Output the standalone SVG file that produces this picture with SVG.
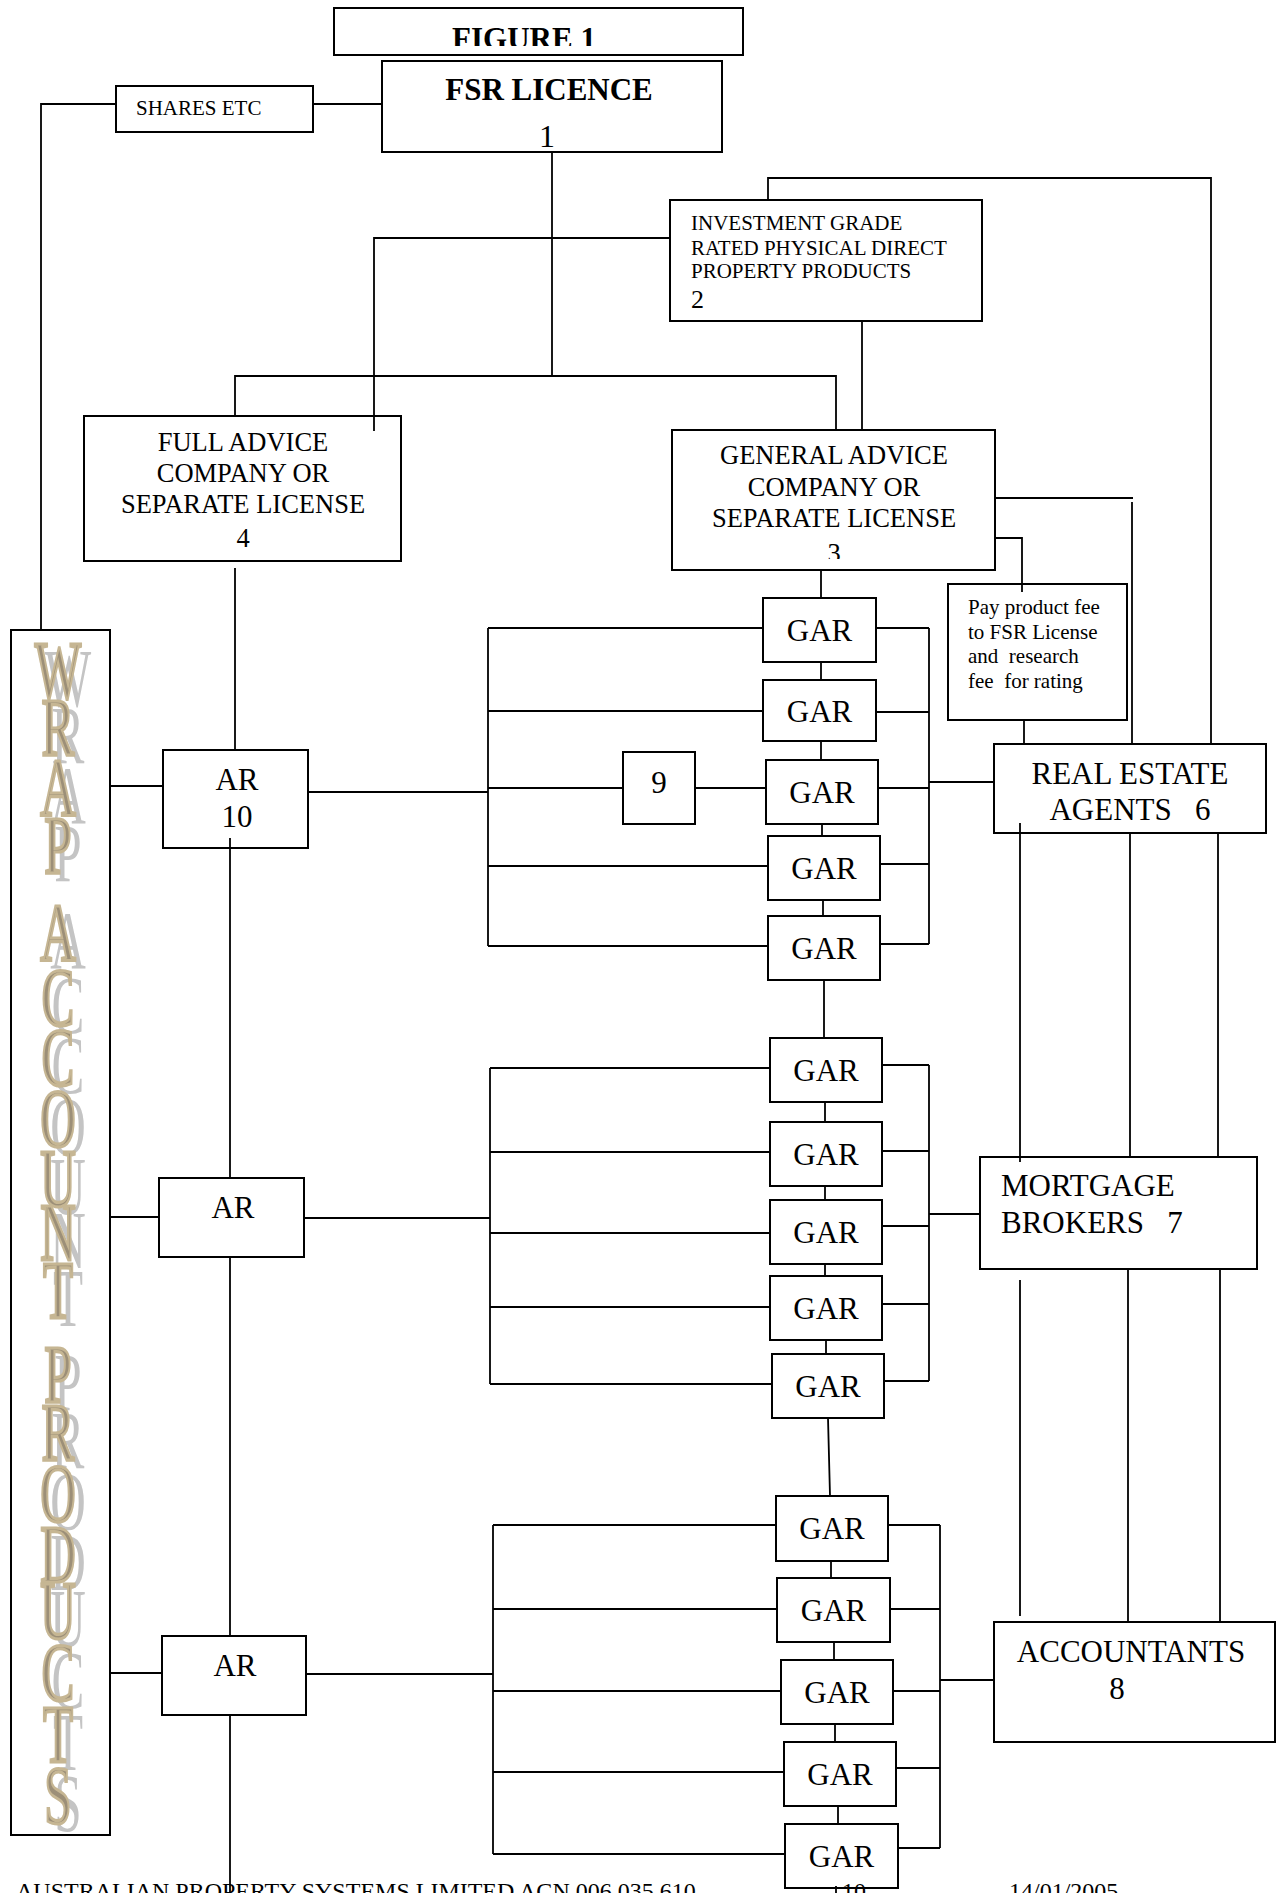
<svg xmlns="http://www.w3.org/2000/svg" xmlns:xlink="http://www.w3.org/1999/xlink" width="1282" height="1893" viewBox="0 0 1282 1893">
<style>
.box{fill:#fff;stroke:#000;stroke-width:2}
.ln{fill:none;stroke:#000;stroke-width:1.8}
.t{font-family:"Liberation Serif","Times New Roman",serif;fill:#000}
.m{text-anchor:middle}
.b{font-weight:bold}
.s20{font-size:21px}
.s26{font-size:26.5px}
.s31{font-size:31px}
.pre{white-space:pre}
.wl{font-family:"Liberation Serif","Times New Roman",serif;font-size:82px;text-anchor:middle}
</style>
<defs>
<clipPath id="clipFig"><rect x="334" y="0" width="409" height="46"/></clipPath>
<clipPath id="clipGen"><rect x="672" y="430" width="323" height="129"/></clipPath>
<g id="wrapLetters">
<text class="wl" x="0" y="698">W</text>
<text class="wl" x="0" y="755">R</text>
<text class="wl" x="0" y="815">A</text>
<text class="wl" x="0" y="873">P</text>
<text class="wl" x="0" y="960">A</text>
<text class="wl" x="0" y="1025">C</text>
<text class="wl" x="0" y="1085">C</text>
<text class="wl" x="0" y="1146">O</text>
<text class="wl" x="0" y="1206">U</text>
<text class="wl" x="0" y="1260">N</text>
<text class="wl" x="0" y="1318">T</text>
<text class="wl" x="0" y="1402">P</text>
<text class="wl" x="0" y="1460">R</text>
<text class="wl" x="0" y="1521">O</text>
<text class="wl" x="0" y="1582">D</text>
<text class="wl" x="0" y="1638">U</text>
<text class="wl" x="0" y="1700">C</text>
<text class="wl" x="0" y="1762">T</text>
<text class="wl" x="0" y="1823">S</text>
</g>
</defs>
<rect x="0" y="0" width="1282" height="1893" fill="#fff"/>

<g id="figure1">
<rect class="box" x="334" y="8" width="409" height="47"/>
<text class="t b m" style="font-size:31px" x="524" y="48.5" clip-path="url(#clipFig)">FIGURE 1</text>
</g>

<g id="fsr-licence">
<rect class="box" x="382" y="61" width="340" height="91"/>
<text class="t b m" style="font-size:31px" x="549" y="100">FSR LICENCE</text>
<text class="t m" style="font-size:32px" x="547" y="147">1</text>
</g>

<g id="shares-etc">
<rect class="box" x="116" y="86" width="197" height="46"/>
<text class="t" style="font-size:21px" x="136" y="115">SHARES ETC</text>
</g>

<g id="investment-grade">
<rect class="box" x="670" y="200" width="312" height="121"/>
<text class="t s20" x="691" y="230">INVESTMENT GRADE</text>
<text class="t s20" x="691" y="255">RATED PHYSICAL DIRECT</text>
<text class="t s20" x="691" y="278">PROPERTY PRODUCTS</text>
<text class="t" style="font-size:26px" x="691" y="308">2</text>
</g>

<g id="full-advice">
<rect class="box" x="84" y="416" width="317" height="145"/>
<text class="t s26 m" x="243" y="451">FULL ADVICE</text>
<text class="t s26 m" x="243" y="482">COMPANY OR</text>
<text class="t s26 m" x="243" y="513">SEPARATE LICENSE</text>
<text class="t s26 m" x="243" y="547">4</text>
</g>

<g id="general-advice">
<rect class="box" x="672" y="430" width="323" height="140"/>
<text class="t s26 m" x="834" y="464">GENERAL ADVICE</text>
<text class="t s26 m" x="834" y="496">COMPANY OR</text>
<text class="t s26 m" x="834" y="527">SEPARATE LICENSE</text>
<text class="t s26 m" x="834" y="562" clip-path="url(#clipGen)">3</text>
</g>

<g id="pay-product-fee">
<rect class="box" x="948" y="584" width="179" height="136"/>
<text class="t s20 pre" x="968" y="614">Pay product fee</text>
<text class="t s20 pre" x="968" y="639">to FSR License</text>
<text class="t s20 pre" x="968" y="663">and  research</text>
<text class="t s20 pre" x="968" y="688">fee  for rating</text>
</g>

<g id="real-estate-agents">
<rect class="box" x="994" y="744" width="272" height="89"/>
<text class="t s31 m pre" x="1130" y="784">REAL ESTATE</text>
<text class="t s31 m pre" x="1130" y="820">AGENTS   6</text>
</g>

<g id="mortgage-brokers">
<rect class="box" x="980" y="1157" width="277" height="112"/>
<text class="t s31 pre" x="1001" y="1196">MORTGAGE</text>
<text class="t s31 pre" x="1001" y="1233">BROKERS   7</text>
</g>

<g id="accountants">
<rect class="box" x="994" y="1622" width="281" height="120"/>
<text class="t s31 m" x="1131" y="1662">ACCOUNTANTS</text>
<text class="t s31 m" x="1117" y="1699">8</text>
</g>

<g id="wrap-account-products">
<rect class="box" x="11" y="630" width="99" height="1205"/>
<use xlink:href="#wrapLetters" transform="translate(68,8) scale(0.6,1)" fill="#c4c4c4"/>
<use xlink:href="#wrapLetters" transform="translate(58,0) scale(0.6,1)" fill="#9c8f78" stroke="#c6b693" stroke-width="3.2"/>
</g>

<g id="ar-10">
<rect class="box" x="163" y="750" width="145" height="98"/>
<text class="t s31 m" x="237" y="790">AR</text>
<text class="t s31 m" x="237" y="827">10</text>
</g>

<g id="ar-2">
<rect class="box" x="159" y="1178" width="145" height="79"/>
<text class="t s31 m" x="233" y="1218">AR</text>
</g>

<g id="ar-3">
<rect class="box" x="162" y="1636" width="144" height="79"/>
<text class="t s31 m" x="235" y="1676">AR</text>
</g>

<g id="node-9">
<rect class="box" x="623" y="752" width="72" height="72"/>
<text class="t s31 m" x="659" y="793">9</text>
</g>

<g id="gar-1"><rect class="box" x="763" y="598" width="113" height="64"/><text class="t s31 m" x="819.5" y="641">GAR</text></g>
<g id="gar-2"><rect class="box" x="763" y="680" width="113" height="61"/><text class="t s31 m" x="819.5" y="722">GAR</text></g>
<g id="gar-3"><rect class="box" x="766" y="760" width="112" height="64"/><text class="t s31 m" x="822" y="803">GAR</text></g>
<g id="gar-4"><rect class="box" x="768" y="836" width="112" height="64"/><text class="t s31 m" x="824" y="879">GAR</text></g>
<g id="gar-5"><rect class="box" x="768" y="916" width="112" height="64"/><text class="t s31 m" x="824" y="959">GAR</text></g>
<g id="gar-6"><rect class="box" x="770" y="1038" width="112" height="64"/><text class="t s31 m" x="826" y="1081">GAR</text></g>
<g id="gar-7"><rect class="box" x="770" y="1122" width="112" height="64"/><text class="t s31 m" x="826" y="1165">GAR</text></g>
<g id="gar-8"><rect class="box" x="770" y="1200" width="112" height="64"/><text class="t s31 m" x="826" y="1243">GAR</text></g>
<g id="gar-9"><rect class="box" x="770" y="1276" width="112" height="64"/><text class="t s31 m" x="826" y="1319">GAR</text></g>
<g id="gar-10"><rect class="box" x="772" y="1354" width="112" height="64"/><text class="t s31 m" x="828" y="1397">GAR</text></g>
<g id="gar-11"><rect class="box" x="776" y="1496" width="112" height="65"/><text class="t s31 m" x="832" y="1539">GAR</text></g>
<g id="gar-12"><rect class="box" x="777" y="1578" width="113" height="64"/><text class="t s31 m" x="833.5" y="1621">GAR</text></g>
<g id="gar-13"><rect class="box" x="781" y="1660" width="112" height="64"/><text class="t s31 m" x="837" y="1703">GAR</text></g>
<g id="gar-14"><rect class="box" x="784" y="1742" width="112" height="64"/><text class="t s31 m" x="840" y="1785">GAR</text></g>
<g id="gar-15"><rect class="box" x="785" y="1824" width="113" height="64"/><text class="t s31 m" x="841.5" y="1867">GAR</text></g>

<g id="connectors">
<path class="ln" d="M116,104 H41 V630"/>
<path class="ln" d="M313,104 H382"/>
<path class="ln" d="M552,152 V376"/>
<path class="ln" d="M235,416 V376 H836 V430"/>
<path class="ln" d="M670,238 H374 V431"/>
<path class="ln" d="M862,321 V430"/>
<path class="ln" d="M768,200 V178 H1211 V744"/>
<path class="ln" d="M995,498 H1133"/>
<path class="ln" d="M1132,502 V744"/>
<path class="ln" d="M995,538 H1022 V592"/>
<path class="ln" d="M1024,720 V744"/>
<path class="ln" d="M235,568 V750"/>
<path class="ln" d="M230,838 V1178"/>
<path class="ln" d="M230,1257 V1636"/>
<path class="ln" d="M230,1715 V1893"/>
<path class="ln" d="M110,786 H163"/>
<path class="ln" d="M110,1217 H159"/>
<path class="ln" d="M110,1673 H162"/>
<path class="ln" d="M308,792 H488"/>
<path class="ln" d="M304,1218 H490"/>
<path class="ln" d="M306,1674 H493"/>
<path class="ln" d="M488,628 V946"/>
<path class="ln" d="M488,628 H763 M488,711 H763 M488,788 H623 M488,866 H768 M488,946 H768"/>
<path class="ln" d="M695,788 H766"/>
<path class="ln" d="M876,628 H929 M876,712 H929 M878,788 H929 M880,864 H929 M880,944 H929"/>
<path class="ln" d="M929,628 V944"/>
<path class="ln" d="M929,782 H994"/>
<path class="ln" d="M490,1068 V1384"/>
<path class="ln" d="M490,1068 H770 M490,1152 H770 M490,1233 H770 M490,1307 H770 M490,1384 H772"/>
<path class="ln" d="M882,1065 H929 M882,1151 H929 M882,1226 H929 M882,1304 H929 M884,1381 H929"/>
<path class="ln" d="M929,1065 V1381"/>
<path class="ln" d="M929,1214 H980"/>
<path class="ln" d="M493,1525 V1854"/>
<path class="ln" d="M493,1525 H776 M493,1609 H777 M493,1691 H781 M493,1772 H784 M493,1854 H785"/>
<path class="ln" d="M888,1525 H940 M890,1609 H940 M893,1691 H940 M896,1768 H940 M898,1848 H940"/>
<path class="ln" d="M940,1525 V1848"/>
<path class="ln" d="M940,1680 H994"/>
<path class="ln" d="M821,570 V598 M821,662 V680 M821,741 V760 M822,824 V836 M823,900 V916 M824,980 V1038 M825,1102 V1122 M825,1186 V1200 M825,1264 V1276 M826,1340 V1354 M828,1418 L830,1496 M831,1561 V1578 M834,1642 V1660 M835,1724 V1742 M838,1806 V1824 M836,1886 V1893"/>
<path class="ln" d="M1020,823 V1162 M1130,833 V1157 M1218,833 V1157"/>
<path class="ln" d="M1020,1280 V1616 M1128,1269 V1622 M1220,1269 V1622"/>
</g>

<g id="footer">
<text class="t" style="font-size:24px" x="16" y="1899">AUSTRALIAN PROPERTY SYSTEMS LIMITED ACN 006 035 610</text>
<text class="t" style="font-size:24px" x="842" y="1899">10</text>
<text class="t" style="font-size:24px" x="1009" y="1899">14/01/2005</text>
</g>
</svg>
